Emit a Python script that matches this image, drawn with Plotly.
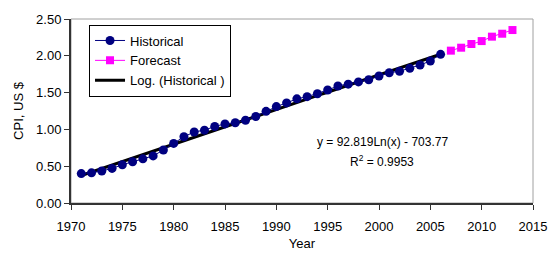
import numpy as np
import plotly.graph_objects as go

hist_years = list(range(1971, 2007))
hist_cpi = [0.40, 0.41, 0.435, 0.47, 0.52, 0.56, 0.60, 0.64, 0.72, 0.81,
            0.90, 0.965, 0.99, 1.04, 1.075, 1.09, 1.125, 1.175, 1.245, 1.31,
            1.36, 1.415, 1.445, 1.485, 1.535, 1.59, 1.615, 1.645, 1.675, 1.725,
            1.77, 1.79, 1.83, 1.875, 1.93, 2.02]
fc_years = list(range(2007, 2014))
fc_cpi = [2.07, 2.11, 2.16, 2.20, 2.26, 2.30, 2.35]

eq_text = "y = 92.819Ln(x) - 703.77"
r2_text = "R<sup>2</sup> = 0.9953"

x_ticks = [1970, 1975, 1980, 1985, 1990, 1995, 2000, 2005, 2010, 2015]
y_ticks = [0.0, 0.5, 1.0, 1.5, 2.0, 2.5]

# logarithmic trendline fitted to the historical series
hx = np.array(hist_years, dtype=float)
slope, intercept = np.polyfit(np.log(hx), np.array(hist_cpi), 1)
trend_x = np.linspace(hx.min(), hx.max(), 100)
trend_y = slope * np.log(trend_x) + intercept

FONT = "Liberation Sans, Arial, sans-serif"

fig = go.Figure()
fig.add_trace(go.Scatter(
    x=trend_x, y=trend_y, mode="lines", name="Log. (Historical )",
    line=dict(color="black", width=3), legendrank=3))
fig.add_trace(go.Scatter(
    x=hist_years, y=hist_cpi, mode="lines+markers", name="Historical",
    line=dict(color="#000080", width=1),
    marker=dict(symbol="circle", size=9, color="#000080"), legendrank=1))
fig.add_trace(go.Scatter(
    x=fc_years, y=fc_cpi, mode="lines+markers", name="Forecast",
    line=dict(color="#FF00FF", width=1),
    marker=dict(symbol="square", size=8, color="#FF00FF"), legendrank=2))

fig.add_annotation(x=2000.3, y=0.83, xref="x", yref="y", text=eq_text,
                   showarrow=False, font=dict(size=12, color="black", family=FONT))
fig.add_annotation(x=2000.3, y=0.57, xref="x", yref="y", text=r2_text,
                   showarrow=False, font=dict(size=12, color="black", family=FONT))

fig.add_shape(type="rect", xref="paper", yref="paper", x0=0, y0=0, x1=1, y1=1,
              line=dict(color="#A0A0A0", width=1), layer="below")

fig.update_layout(
    width=559, height=261, autosize=False,
    margin=dict(l=71, r=26, t=16, b=58),
    paper_bgcolor="white", plot_bgcolor="white",
    font=dict(family=FONT, size=13, color="black"),
    showlegend=True,
    legend=dict(x=0.039, y=0.97, xanchor="left", yanchor="top",
                bordercolor="black", borderwidth=1, bgcolor="white",
                font=dict(size=13, family=FONT),
                traceorder="normal", itemwidth=30),
    xaxis=dict(range=[1970, 2015], tickvals=x_ticks, ticktext=[str(v) for v in x_ticks],
               showgrid=False, zeroline=False, showline=True, linecolor="#333333",
               linewidth=2, ticks="outside", ticklen=5, tickcolor="#333333",
               ticklabelstandoff=5,
               title=dict(text="Year", font=dict(size=13), standoff=6)),
    yaxis=dict(range=[0, 2.5], tickvals=y_ticks, ticktext=[f"{v:.2f}" for v in y_ticks],
               showgrid=False, zeroline=False, showline=True, linecolor="#333333",
               linewidth=2, ticks="outside", ticklen=5, tickcolor="#333333",
               title=dict(text="CPI, US $", font=dict(size=13), standoff=10)),
)

fig.write_html("out.html", config={"displayModeBar": False},
               post_script="document.body.style.margin='0';")
